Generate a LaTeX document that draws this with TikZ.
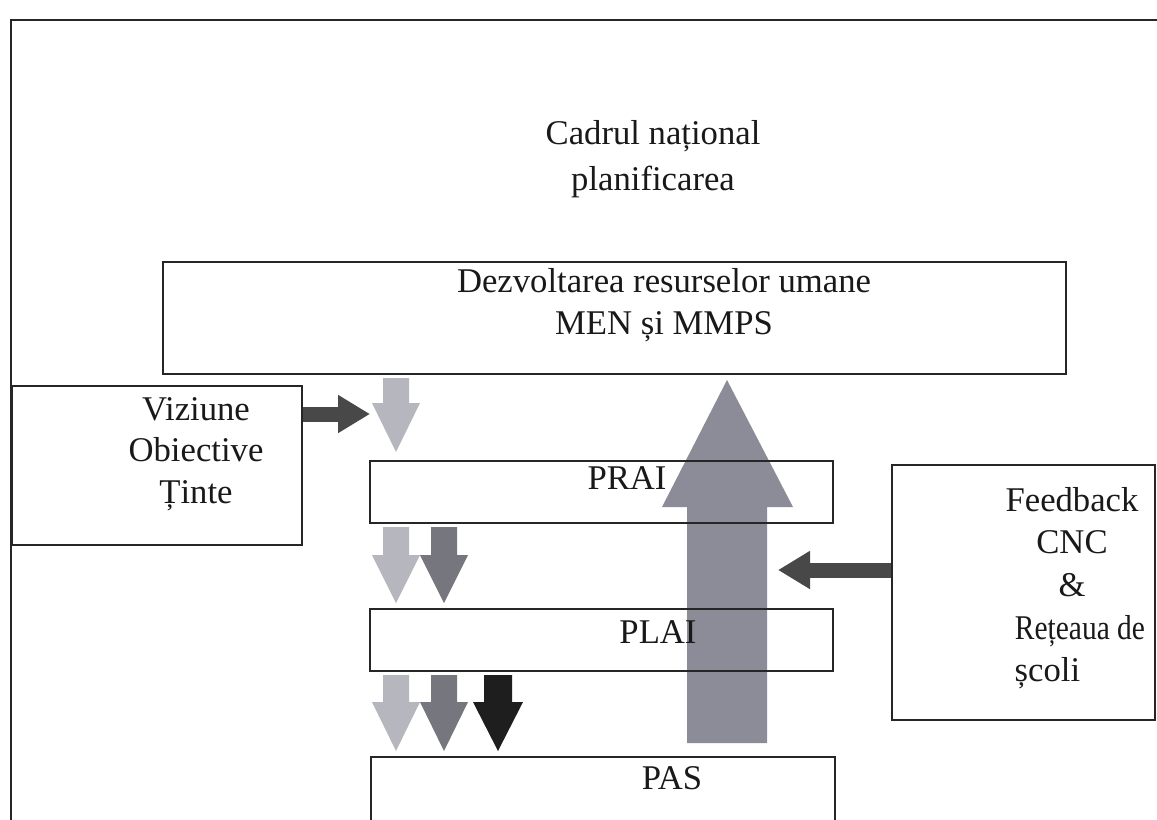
\documentclass[tikz,border=0pt]{standalone}
\usepackage{fontspec}
\setmainfont{Liberation Serif}
\usetikzlibrary{arrows.meta}
\definecolor{lightarr}{RGB}{182,182,190}
\definecolor{midarr}{RGB}{118,118,126}
\definecolor{blackarr}{RGB}{30,30,30}
\definecolor{bigarr}{RGB}{140,140,152}
\definecolor{darkarr}{RGB}{72,72,72}
\newcommand\blockdn[7]{%
  \fill[#7] (#1-#2,#4) -- (#1+#2,#4) -- (#1+#2,#5) -- (#1+#3,#5) -- (#1,#6) -- (#1-#3,#5) -- (#1-#2,#5) -- cycle;}
\begin{document}
\begin{tikzpicture}[x=0.75pt,y=-0.75pt,
  lbl/.style={inner sep=0pt, text=black!90, font=\fontsize{26}{31}\selectfont, align=center},
  box/.style={draw=black!85, line width=1.2pt, inner sep=0pt},
  conn/.style={darkarr, line width=11.25pt, -{Triangle[length=24pt, width=27pt]}}]
\useasboundingbox (0,0) rectangle (1157,819);
\fill[white] (0,0) rectangle (1157,819);
\clip (0,0) rectangle (1157,819);
% outer frame
\draw[black!85, line width=1.5pt] (11,20) rectangle (1175,840);
% big up arrow
\fill[bigarr] (687,743) -- (687,507) -- (662,507) -- (727,380) -- (793,507) -- (767,507) -- (767,743) -- cycle;
% down arrows
\blockdn{396}{13}{24}{378}{403}{452}{lightarr}
\blockdn{396}{13}{24}{527}{555}{603}{lightarr}
\blockdn{444}{13}{24}{527}{555}{603}{midarr}
\blockdn{396}{13}{24}{675}{702}{751}{lightarr}
\blockdn{444}{13}{24}{675}{702}{751}{midarr}
\blockdn{498}{14}{25}{675}{702}{751}{blackarr}
% boxes
\node[box, minimum width=677.25pt, minimum height=84pt] (dru) at (614.5,318) {};
\node[box, minimum width=217.5pt, minimum height=119.25pt] (viz) at (157,465.5) {};
\node[box, minimum width=347.25pt, minimum height=46.5pt] (prai) at (601.5,492) {};
\node[box, minimum width=347.25pt, minimum height=46.5pt] (plai) at (601.5,640) {};
\node[box, minimum width=348pt, minimum height=54.75pt] (pas) at (603,793.5) {};
\node[box, minimum width=197.25pt, minimum height=191.25pt] (fb) at (1023.5,592.5) {};
% texts
\node[lbl, font=\fontsize{26}{34.5}\selectfont] (cadrul) at (653,159) {Cadrul național\\planificarea};
\node[lbl] (drutxt) at (664,305) {Dezvoltarea resurselor umane\\MEN și MMPS};
\node[lbl] (viztxt) at (196,454) {Viziune\\Obiective\\Ținte};
\node[lbl] (praitxt) at (627,478) {PRAI};
\node[lbl] (plaitxt) at (658,632) {PLAI};
\node[lbl] (pastxt) at (672,778) {PAS};
\node[lbl, font=\fontsize{26}{32}\selectfont] (fbtxt) at (1072,588) {Feedback\\CNC\\\&\\\hspace*{12pt}\scalebox{0.85}[1]{Rețeaua de}\\\hspace*{12pt}\makebox[98pt][l]{școli}};
% connectors
\coordinate (vtip) at (370,414);
\coordinate (ftip) at (778,570);
\draw[conn] (vtip -| viz.east) -- (vtip);
\draw[conn] (ftip -| fb.west) -- (ftip);
\end{tikzpicture}
\end{document}
